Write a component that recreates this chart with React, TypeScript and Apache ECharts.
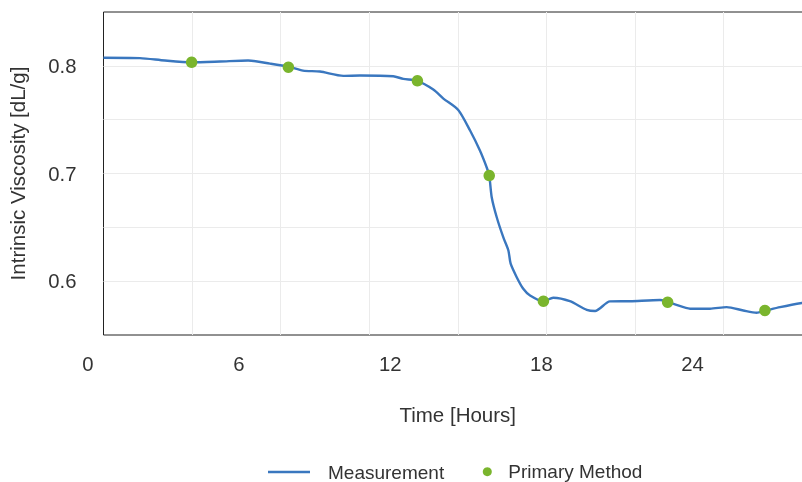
import React, { useEffect, useRef } from "react";
import * as echarts from "echarts";

const measurementHours = [
  0.62, 2.07, 3.06, 4.12, 5.25, 6.36, 7.23, 7.96, 8.54, 9.21, 10.14, 10.8,
  12.12, 12.52, 13.08, 13.71, 14.11, 14.7, 15.17, 15.56, 15.83, 15.93, 16.03,
  16.23, 16.49, 16.69, 16.78, 17.02, 17.28, 17.55, 18.08, 18.47, 19.13, 19.8,
  20.13, 20.72, 21.52, 22.71, 23.0, 23.3, 23.9, 24.69, 25.35, 26.01, 26.54,
  26.87, 27.47, 28.34, 28.7,
];
const measurementValues = [
  0.8075, 0.8072, 0.8049, 0.8033, 0.804, 0.8049, 0.8021, 0.7993, 0.7956,
  0.7947, 0.7907, 0.791, 0.7903, 0.7879, 0.7861, 0.778, 0.7696, 0.759, 0.7399,
  0.7213, 0.7056, 0.6981, 0.6777, 0.6591, 0.6406, 0.6285, 0.6162, 0.6037,
  0.5929, 0.5867, 0.5814, 0.5846, 0.5814, 0.5734, 0.5723, 0.5812, 0.5814,
  0.5825, 0.5807, 0.5784, 0.5744, 0.5744, 0.5759, 0.5728, 0.5707, 0.5725,
  0.5759, 0.5798, 0.5806,
];
const primaryHours = [4.12, 7.96, 13.08, 15.93, 18.08, 23.01, 26.87];
const primaryValues = [0.8033, 0.7987, 0.7861, 0.6981, 0.5814, 0.5805, 0.5728];

const xTickLabels = [0, 6, 12, 18, 24];
const yTickLabels = [0.6, 0.7, 0.8];

const FONT = "'Liberation Sans', Arial, Helvetica, sans-serif";
const TEXT = "#333";
const BLUE = "#3a77bf";
const GREEN = "#7ab52d";
const GRIDC = "#ebebeb";

export default function App() {
  const ref = useRef<HTMLDivElement>(null);
  useEffect(() => {
    const chart = echarts.init(ref.current!, null, { renderer: "svg" });
    const tick = { fontSize: 20.3, color: TEXT, fontFamily: FONT };
    const nameTxt = { fontSize: 20.5, color: TEXT, fontFamily: FONT };
    const legTxt = { fontSize: 19, color: TEXT, fontFamily: FONT };
    chart.setOption({
      animation: false,
      grid: [
        {
          left: 103.5,
          top: 12,
          right: -10,
          bottom: 147,
          show: true,
          borderColor: "#222",
          borderWidth: 1,
          backgroundColor: "transparent",
          outerBoundsMode: "none",
        },
        {
          left: 87.8,
          top: 12,
          right: -10,
          bottom: 147,
          show: false,
          outerBoundsMode: "none",
        },
      ],
      xAxis: [
        {
          gridIndex: 0,
          type: "value",
          position: "bottom",
          min: 0.623,
          max: 28.738,
          axisLine: { show: false },
          axisTick: { show: false },
          axisLabel: { show: false },
          splitLine: { show: false },
          name: "Time [Hours]",
          nameLocation: "middle",
          nameGap: 69,
          nameTextStyle: nameTxt,
        },
        {
          gridIndex: 0,
          type: "value",
          position: "top",
          min: 0,
          max: 8,
          interval: 1,
          axisLine: { show: false },
          axisTick: { show: false },
          axisLabel: { show: false },
          splitLine: {
            show: true,
            showMinLine: false,
            showMaxLine: false,
            lineStyle: { color: GRIDC, width: 1 },
          },
        },
        {
          gridIndex: 1,
          type: "value",
          position: "bottom",
          min: 0,
          max: 28.738,
          axisLine: { show: false },
          axisTick: { show: false },
          splitLine: { show: false },
          axisLabel: { customValues: xTickLabels, margin: 19, ...tick },
        },
      ],
      yAxis: [
        {
          gridIndex: 0,
          type: "value",
          min: 0.55,
          max: 0.85,
          interval: 0.05,
          axisLine: { show: false },
          axisTick: { show: false },
          axisLabel: {
            customValues: yTickLabels,
            margin: 27,
            formatter: (v: number) => v.toFixed(1),
            ...tick,
          },
          splitLine: {
            show: true,
            showMinLine: false,
            showMaxLine: false,
            lineStyle: { color: GRIDC, width: 1 },
          },
          name: "Intrinsic Viscosity [dL/g]",
          nameLocation: "middle",
          nameGap: 76,
          nameTextStyle: nameTxt,
        },
        { gridIndex: 1, type: "value", show: false, min: 0, max: 1 },
      ],
      legend: [
        {
          data: [{ name: "Measurement", icon: "rect" }],
          left: 268,
          top: 462.5,
          padding: 0,
          itemWidth: 42,
          itemHeight: 2.5,
          textStyle: { ...legTxt, padding: [0, 0, 0, 13] },
        },
        {
          data: [{ name: "Primary Method", icon: "circle" }],
          left: 482.8,
          top: 462.2,
          padding: 0,
          itemWidth: 9,
          itemHeight: 9,
          textStyle: { ...legTxt, padding: [0, 0, 0, 11.5] },
        },
      ],
      series: [
        {
          type: "line",
          name: "Measurement",
          xAxisIndex: 0,
          yAxisIndex: 0,
          data: measurementHours.map((h, i) => [h, measurementValues[i]]),
          showSymbol: false,
          symbol: "none",
          smooth: 0.25,
          lineStyle: { color: BLUE, width: 2.4 },
          itemStyle: { color: BLUE },
          z: 2,
        },
        {
          type: "scatter",
          name: "Primary Method",
          xAxisIndex: 0,
          yAxisIndex: 0,
          data: primaryHours.map((h, i) => [h, primaryValues[i]]),
          symbol: "circle",
          symbolSize: 11.5,
          itemStyle: { color: GREEN, opacity: 1 },
          z: 3,
        },
      ],
    });
    return () => chart.dispose();
  }, []);
  return (
    <div
      ref={ref}
      style={{ position: "fixed", left: 0, top: 0, width: 802, height: 482 }}
    />
  );
}
